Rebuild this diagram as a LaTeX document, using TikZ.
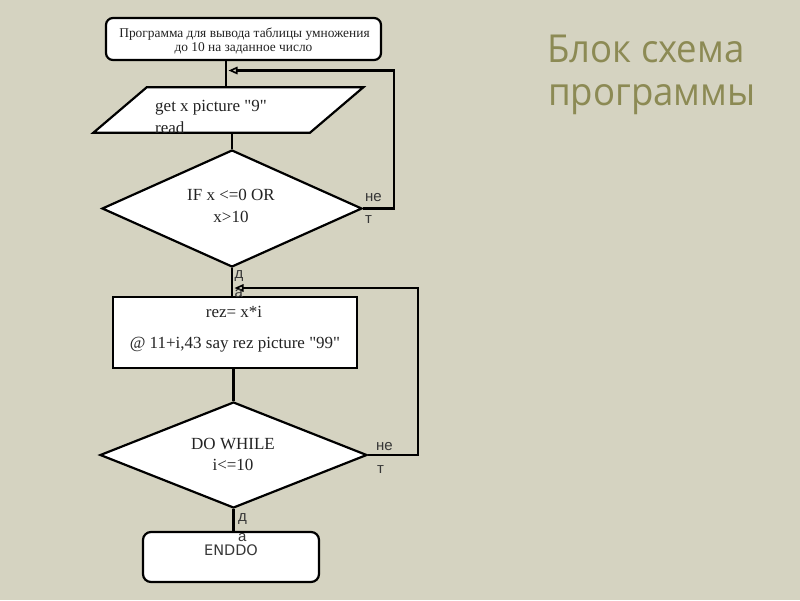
\documentclass[tikz,border=0pt]{standalone}
\usepackage{fontspec}
\setmainfont{Liberation Serif}
\newfontfamily\labfont{Liberation Sans}
\newfontfamily\endfont{DejaVu Sans}
\newfontfamily\titlefont{Open Sans}
\usetikzlibrary{shapes.geometric,arrows.meta}
\definecolor{bg}{RGB}{213,211,193}
\definecolor{titlecol}{RGB}{140,138,84}
\definecolor{txtcol}{RGB}{35,35,35}
\definecolor{labcol}{RGB}{55,55,55}
\tikzset{
  shapeline/.style={draw=black, line width=2.2pt, fill=white},
  conn/.style={draw=black, line width=2.2pt},
  loopback/.style={conn, -{Triangle[open, length=9pt, width=7.5pt, line width=1.6pt]}},
  dia/.style={shapeline, diamond, inner sep=0pt},
  boxr/.style={shapeline, rectangle, inner sep=0pt},
  serif/.style={text=txtcol, inner sep=0pt, font=\fontsize{17}{20}\selectfont},
  smallserif/.style={text=txtcol, inner sep=0pt, font=\fontsize{13.4}{15}\selectfont},
  lab/.style={text=labcol, inner sep=0pt, anchor=base west, font=\labfont\fontsize{15}{18}\selectfont},
  ttl/.style={text=titlecol, inner sep=0pt, anchor=base west, xscale=0.95, transform shape, font=\titlefont\fontsize{38.5}{46}\selectfont},
}
\begin{document}
\begin{tikzpicture}[x=1pt, y=-1pt]
\fill[bg] (0,0) rectangle (800,600);
\useasboundingbox (0,0) rectangle (800,600);

% title
\node[ttl] (title1) at (547,62) {Блок схема};
\node[ttl] (title2) at (548,105) {программы};

% top rounded box
\node[boxr, rounded corners=7pt, minimum width=275pt, minimum height=42pt] (top) at (243.5,39) {};
\node[smallserif, anchor=base] (toptxt1) at (244.5,37.3) {Программа для вывода таблицы умножения};
\node[smallserif, anchor=base] (toptxt2) at (243.5,51.7) {до 10 на заданное число};

% parallelogram
\coordinate (pa) at (146.7,87.3);
\coordinate (pb) at (363.3,87.3);
\coordinate (pc) at (310,132.7);
\coordinate (pd) at (93.4,132.7);
\coordinate (pin) at (226,87.3);
\coordinate (pout) at (232,132.7);
\filldraw[shapeline] (pa) -- (pb) -- (pc) -- (pd) -- cycle;
\node[serif, anchor=base west] (ptxt1) at (155,111) {get x picture \textquotedbl 9\textquotedbl};
\node[serif, anchor=base west] (ptxt2) at (155,133) {read};

% diamond 1
\node[dia, minimum width=260pt, minimum height=117pt] (d1) at (232,208.5) {};
\node[serif, anchor=base] (d1txt1) at (231,200.7) {IF x <=0 OR};
\node[serif, anchor=base] (d1txt2) at (231,222.7) {x>10};

% rectangle 2
\node[boxr, minimum width=244pt, minimum height=71pt] (r2) at (235,332.5) {};
\node[serif, anchor=base] (r2txt1) at (234,317) {rez= x*i};
\node[serif, anchor=base] (r2txt2) at (235,348) {@ 11+i,43 say rez picture \textquotedbl 99\textquotedbl};

% diamond 2
\node[dia, minimum width=267pt, minimum height=106pt] (d2) at (233.5,455) {};
\node[serif, anchor=base] (d2txt1) at (233,449.3) {DO WHILE};
\node[serif, anchor=base] (d2txt2) at (233,470.7) {i<=10};

% ENDDO box
\node[boxr, rounded corners=8pt, minimum width=176pt, minimum height=50pt] (end) at (231,557) {};
\node[text=labcol, inner sep=0pt, anchor=base, font=\endfont\fontsize{14.5}{17}\selectfont] (endtxt) at (231,555) {ENDDO};

% connectors
\coordinate (r1) at (394,70.5);
\coordinate (a1) at (228.5,70.5);
\coordinate (r2c) at (418,288);
\coordinate (a2) at (234.5,288);
\draw[conn] (pin |- top.south) -- (pin);
\draw[conn] (pout) -- (d1.north);
\draw[conn] (d1.south) -- (d1.south |- r2.north);
\draw[conn] (d2.north |- r2.south) -- (d2.north);
\draw[conn] (d2.south) -- (d2.south |- end.north);
\draw[loopback] (d1.east) -| (r1) -- (a1);
\draw[loopback] (d2.east) -| (r2c) -- (a2);

% branch labels
\node[lab] (no1a) at (365,201.7) {не};
\node[lab] (no1b) at (365,223.3) {т};
\node[lab] (yes1a) at (234.5,278.3) {д};
\node[lab] (yes1b) at (234.5,297) {а};
\node[lab] (no2a) at (376,450.7) {не};
\node[lab] (no2b) at (377,473.3) {т};
\node[lab] (yes2a) at (238,521) {д};
\node[lab] (yes2b) at (238,541) {а};
\end{tikzpicture}
\end{document}
